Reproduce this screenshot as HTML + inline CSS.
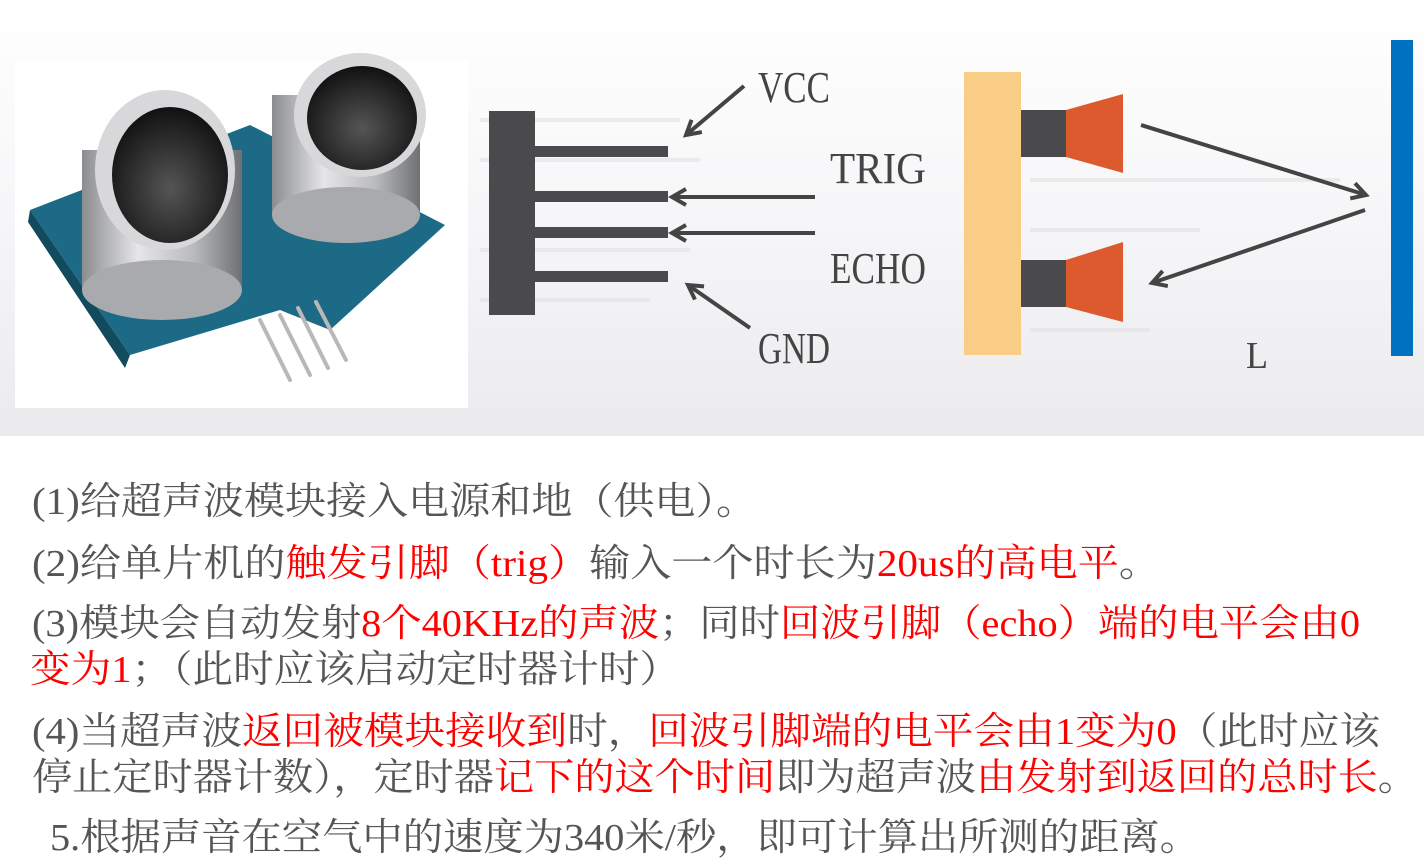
<!DOCTYPE html>
<html><head><meta charset="utf-8"><style>
html,body{margin:0;padding:0;background:#fff;}
svg{display:block}
</style></head><body>
<svg width="1424" height="862" viewBox="0 0 1424 862" xmlns="http://www.w3.org/2000/svg">
<defs>
<linearGradient id="bg" x1="0" y1="0" x2="0" y2="1">
<stop offset="0" stop-color="#ffffff"/><stop offset="0.5" stop-color="#f6f6f8"/><stop offset="1" stop-color="#ebebee"/>
</linearGradient>
<linearGradient id="cyl" x1="0" y1="0" x2="1" y2="0">
<stop offset="0" stop-color="#8a8c90"/><stop offset="0.35" stop-color="#e6e6e8"/><stop offset="0.7" stop-color="#b9babd"/><stop offset="1" stop-color="#6e7074"/>
</linearGradient>
<radialGradient id="hole" cx="0.5" cy="0.6" r="0.6">
<stop offset="0" stop-color="#555"/><stop offset="1" stop-color="#111"/>
</radialGradient>
<marker id="ah" viewBox="0 0 10 10" refX="8" refY="5" markerWidth="5" markerHeight="5" orient="auto">
<path d="M1,1 L8,5 L1,9" fill="none" stroke="#444" stroke-width="2"/>
</marker>
</defs>
<rect x="0" y="0" width="1424" height="436" fill="url(#bg)"/>
<g stroke="#e2e2e6" stroke-width="4" opacity="0.6">
<line x1="480" y1="120" x2="680" y2="120"/><line x1="480" y1="160" x2="700" y2="160"/><line x1="480" y1="250" x2="690" y2="250"/><line x1="480" y1="300" x2="650" y2="300"/><line x1="1030" y1="180" x2="1340" y2="180"/><line x1="1030" y1="230" x2="1200" y2="230"/><line x1="1030" y1="330" x2="1150" y2="330"/>
</g>
<!-- photo -->
<rect x="15" y="60" width="453" height="348" fill="#fff"/>
<polygon points="30,210 250,125 445,225 330,330 280,310 130,355" fill="#1d6a86"/>
<polygon points="30,210 130,355 125,368 28,222" fill="#124a5e"/>
<g stroke="#b8b8b8" stroke-width="4" stroke-linecap="round">
<line x1="260" y1="320" x2="290" y2="380"/><line x1="280" y1="315" x2="310" y2="375"/><line x1="298" y1="308" x2="328" y2="368"/><line x1="316" y1="302" x2="346" y2="360"/>
</g>
<rect x="82" y="150" width="160" height="140" fill="url(#cyl)"/>
<ellipse cx="162" cy="290" rx="80" ry="30" fill="#a9aaad"/>
<ellipse cx="165" cy="170" rx="70" ry="80" fill="#d8d8da"/>
<ellipse cx="170" cy="175" rx="58" ry="68" fill="url(#hole)"/>
<rect x="272" y="95" width="148" height="120" fill="url(#cyl)"/>
<ellipse cx="346" cy="215" rx="74" ry="28" fill="#a9aaad"/>
<ellipse cx="360" cy="115" rx="66" ry="62" fill="#d8d8da"/>
<ellipse cx="362" cy="118" rx="55" ry="52" fill="url(#hole)"/>
<!-- connector diagram -->
<rect x="489" y="111" width="46" height="204" fill="#4a4a4c"/>
<g fill="#4a4a4c">
<rect x="535" y="146" width="133" height="11"/><rect x="535" y="191" width="133" height="11"/><rect x="535" y="227" width="133" height="11"/><rect x="535" y="271" width="133" height="11"/>
</g>
<g stroke="#444" stroke-width="4" fill="none" marker-end="url(#ah)">
<line x1="744" y1="86" x2="686" y2="135"/>
<line x1="815" y1="197" x2="672" y2="197"/>
<line x1="815" y1="233" x2="672" y2="233"/>
<line x1="750" y1="328" x2="688" y2="285"/>
<line x1="1141" y1="125" x2="1366" y2="195"/>
<line x1="1365" y1="210" x2="1152" y2="283"/>
</g>
<g font-family="'Liberation Serif',serif" font-size="44" fill="#444">
<text x="758" y="102" textLength="72" lengthAdjust="spacingAndGlyphs">VCC</text>
<text x="830" y="183" textLength="96" lengthAdjust="spacingAndGlyphs">TRIG</text>
<text x="830" y="283" textLength="96" lengthAdjust="spacingAndGlyphs">ECHO</text>
<text x="758" y="363" textLength="72" lengthAdjust="spacingAndGlyphs">GND</text>
<text x="1246" y="368" font-size="38" textLength="22" lengthAdjust="spacingAndGlyphs">L</text>
</g>
<rect x="964" y="72" width="57" height="283" fill="#f9cd86"/>
<rect x="1021" y="110" width="46" height="47" fill="#4a4a4c"/>
<rect x="1021" y="260" width="46" height="47" fill="#4a4a4c"/>
<polygon points="1066,110 1123,94 1123,173 1066,157" fill="#dc5a2e"/>
<polygon points="1066,260 1123,242 1123,322 1066,307" fill="#dc5a2e"/>
<rect x="1391" y="40" width="22" height="316" fill="#0070c0"/>
<!-- text -->
<g font-family="'Liberation Serif','Noto Serif CJK SC',serif" font-size="38" fill="#555">
<text x="32" y="514" textLength="725" lengthAdjust="spacingAndGlyphs">(1)给超声波模块接入电源和地（供电）。</text>
<text x="32" y="576" textLength="1128" lengthAdjust="spacingAndGlyphs">(2)给单片机的<tspan fill="#f00">触发引脚（trig）</tspan>输入一个时长为<tspan fill="#f00">20us的高电平</tspan>。</text>
<text x="32" y="636" textLength="1328" lengthAdjust="spacingAndGlyphs">(3)模块会自动发射<tspan fill="#f00">8个40KHz的声波</tspan>；同时<tspan fill="#f00">回波引脚（echo）端的电平会由0</tspan></text>
<text x="30" y="682" textLength="650" lengthAdjust="spacingAndGlyphs"><tspan fill="#f00">变为1</tspan>；（此时应该启动定时器计时）</text>
<text x="32" y="744" textLength="1348" lengthAdjust="spacingAndGlyphs">(4)当超声波<tspan fill="#f00">返回被模块接收到</tspan>时，<tspan fill="#f00">回波引脚端的电平会由1变为0</tspan>（此时应该</text>
<text x="32" y="790" textLength="1386" lengthAdjust="spacingAndGlyphs">停止定时器计数），定时器<tspan fill="#f00">记下的这个时间</tspan>即为超声波<tspan fill="#f00">由发射到返回的总时长</tspan>。</text>
<text x="50" y="850" textLength="1150" lengthAdjust="spacingAndGlyphs">5.根据声音在空气中的速度为340米/秒，即可计算出所测的距离。</text>
</g>
</svg>
</body></html>
